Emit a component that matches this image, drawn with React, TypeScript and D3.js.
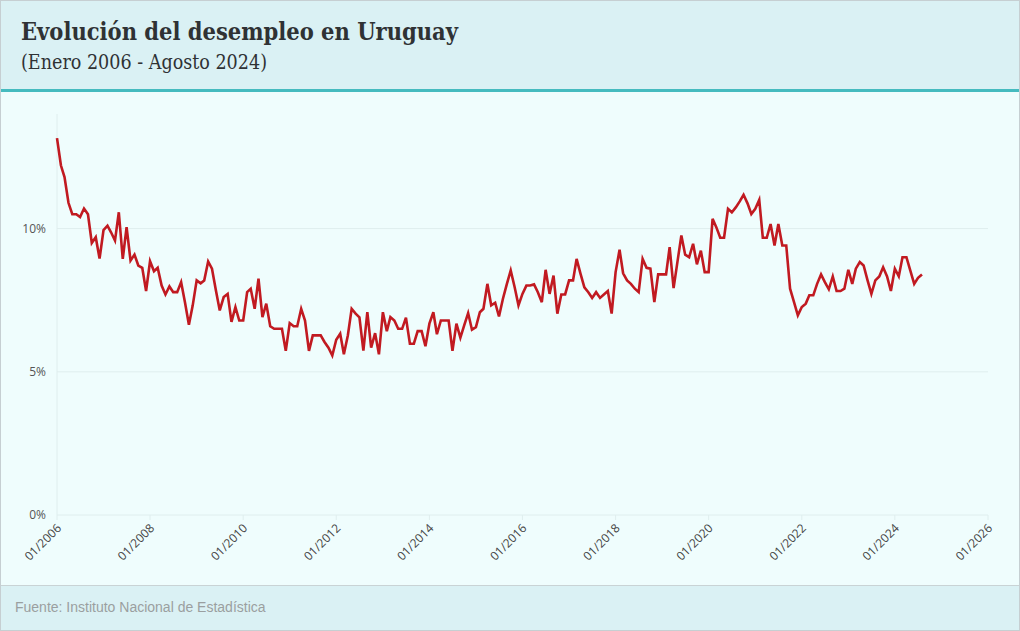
import React from "react";
import * as d3 from "d3";

const title = "Evolución del desempleo en Uruguay";
const subtitle = "(Enero 2006 - Agosto 2024)";
const source = "Fuente: Instituto Nacional de Estadística";

const startYear = 2006;
const startMonth = 0; // January
const unemployment: number[] = [
  13.16, 12.2, 11.8, 10.9, 10.5, 10.5, 10.4, 10.7, 10.5, 9.5, 9.7, 8.95,
  9.95, 10.1, 9.87, 9.58, 10.57, 8.94, 10.05, 8.88, 9.09, 8.71, 8.63, 7.82,
  8.86, 8.51, 8.63, 8.01, 7.7, 7.98, 7.78, 7.78, 8.13, 7.43, 6.64, 7.32,
  8.19, 8.09, 8.19, 8.85, 8.6, 7.84, 7.14, 7.61, 7.72, 6.74, 7.26, 6.79,
  6.79, 7.78, 7.9, 7.2, 8.25, 6.91, 7.38, 6.59, 6.5, 6.5, 6.5, 5.73,
  6.7, 6.59, 6.59, 7.2, 6.79, 5.73, 6.27, 6.27, 6.27, 6.04, 5.84, 5.57,
  6.12, 6.33, 5.61, 6.27, 7.2, 7.03, 6.9, 5.74, 7.08, 5.84, 6.35, 5.61,
  7.08, 6.42, 6.91, 6.79, 6.5, 6.5, 6.89, 5.98, 5.98, 6.42, 6.42, 5.89,
  6.68, 7.08, 6.31, 6.79, 6.79, 6.79, 5.73, 6.68, 6.19, 6.62, 7.05, 6.47,
  6.56, 7.08, 7.2, 8.07, 7.32, 7.41, 6.93, 7.55, 8.07, 8.54, 7.95, 7.32,
  7.72, 8.01, 8.01, 8.05, 7.78, 7.43, 8.56, 7.72, 8.36, 7.03, 7.7, 7.7,
  8.19, 8.19, 8.94, 8.42, 7.95, 7.78, 7.58, 7.78, 7.58, 7.7, 7.82, 7.03,
  8.48, 9.26, 8.44, 8.19, 8.07, 7.9, 7.78, 8.94, 8.63, 8.6, 7.43, 8.4,
  8.4, 8.4, 9.35, 7.92, 8.83, 9.76, 9.09, 9.0, 9.47, 8.75, 9.23, 8.48,
  8.48, 10.34, 10.05, 9.68, 9.68, 10.69, 10.57, 10.74, 10.95, 11.18, 10.88, 10.51,
  10.69, 11.0, 9.68, 9.68, 10.16, 9.41, 10.16, 9.41, 9.41, 7.9, 7.43, 6.97,
  7.26, 7.38, 7.67, 7.67, 8.07, 8.4, 8.13, 7.88, 8.33, 7.82, 7.82, 7.9,
  8.56, 8.07, 8.6, 8.83, 8.71, 8.19, 7.72, 8.19, 8.33, 8.65, 8.33, 7.82,
  8.6, 8.33, 9.0, 9.0, 8.54, 8.07, 8.28, 8.4,
];
const xTickYears: number[] = [2006, 2008, 2010, 2012, 2014, 2016, 2018, 2020, 2022, 2024, 2026];
const yTicks: number[] = [0, 5, 10];
const yMax = 14;

const W = 1020;
const H = 631;
const plot = { left: 57, right: 988, top: 114, bottom: 515 };

export default function App() {
  const dates = unemployment.map((_, i) => new Date(Date.UTC(startYear, startMonth + i, 1)));
  const x = d3
    .scaleUtc()
    .domain([new Date(Date.UTC(2006, 0, 1)), new Date(Date.UTC(2026, 0, 1))])
    .range([plot.left, plot.right]);
  const y = d3.scaleLinear().domain([0, yMax]).range([plot.bottom, plot.top]);
  const line = d3
    .line<number>()
    .x((_, i) => x(dates[i]))
    .y((d) => y(d));
  const fmt = d3.utcFormat("%m/%Y");

  return (
    <div style={{ position: "absolute", left: 0, top: 0, width: W, height: H }}>
      <svg width={W} height={H} style={{ display: "block" }}>
        <rect x={0} y={0} width={W} height={H} fill="#effdfd" />
        <rect x={0} y={0} width={W} height={89} fill="#daf1f4" />
        <rect x={0} y={89} width={W} height={3} fill="#45bbbf" />
        <rect x={0} y={585} width={W} height={46} fill="#daf1f4" />
        <line x1={0} x2={W} y1={585.5} y2={585.5} stroke="#c9d3d5" />
        <rect x={0.5} y={0.5} width={W - 1} height={H - 1} fill="none" stroke="#c6cfd2" />

        <text
          x={21}
          y={40}
          fontFamily="'DejaVu Serif', serif"
          fontWeight="bold"
          fontSize={25}
          fill="#2f3234"
          textLength={437}
          lengthAdjust="spacingAndGlyphs"
        >
          {title}
        </text>
        <text
          x={21}
          y={69}
          fontFamily="'DejaVu Serif', serif"
          fontSize={20}
          fill="#2f3234"
          textLength={246}
          lengthAdjust="spacingAndGlyphs"
        >
          {subtitle}
        </text>

        {yTicks.map((t) => (
          <g key={t}>
            <line x1={plot.left} x2={plot.right} y1={y(t)} y2={y(t)} stroke="#dfeeee" strokeWidth={1} />
            <text
              x={46}
              y={y(t)}
              dy="0.35em"
              textAnchor="end"
              fontFamily="'Open Sans', sans-serif"
              fontSize={12}
              fill="#555"
            >
              {t}%
            </text>
          </g>
        ))}
        <line x1={plot.left} x2={plot.left} y1={plot.top} y2={plot.bottom} stroke="#dfeeee" />
        {xTickYears.map((yr) => {
          const d = new Date(Date.UTC(yr, 0, 1));
          const px = x(d);
          return (
            <g key={yr}>
              <line x1={px} x2={px} y1={plot.bottom} y2={plot.bottom + 5} stroke="#dfeeee" />
              <text
                transform={`translate(${px + 5},${plot.bottom + 14}) rotate(-45)`}
                textAnchor="end"
                fontFamily="'Open Sans', sans-serif"
                fontSize={12}
                fill="#444"
              >
                {fmt(d)}
              </text>
            </g>
          );
        })}

        <path
          d={line(unemployment) || ""}
          fill="none"
          stroke="#c11a21"
          strokeWidth={2.6}
          strokeLinejoin="miter"
        />

        <text x={15} y={612} fontFamily="'Liberation Sans', Arial, sans-serif" fontSize={14} fill="#9a9fa0">
          {source}
        </text>
      </svg>
    </div>
  );
}
